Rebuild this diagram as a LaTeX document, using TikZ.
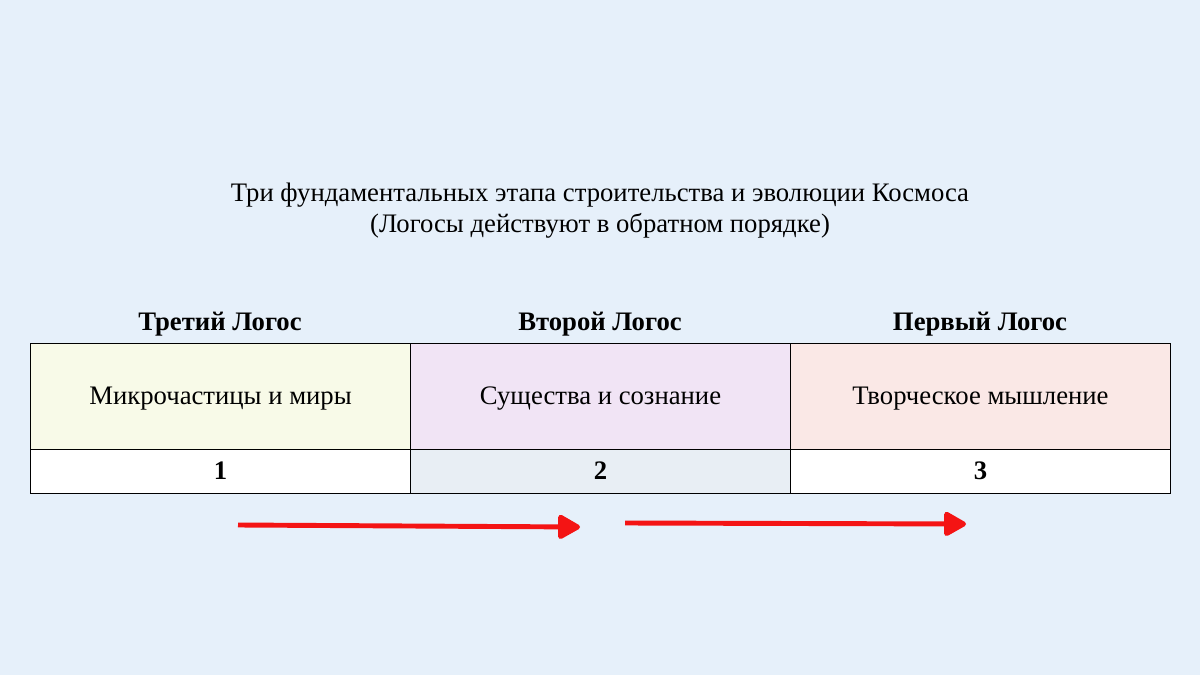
\documentclass[tikz,border=0pt]{standalone}
\usepackage{fontspec}
\setmainfont{Liberation Serif}
\usetikzlibrary{arrows.meta}
\definecolor{bg}{HTML}{E6F0FA}
\definecolor{cA}{HTML}{F8FAE8}
\definecolor{cB}{HTML}{F1E4F5}
\definecolor{cC}{HTML}{FAE8E6}
\definecolor{cM}{HTML}{E8EEF4}
\definecolor{arr}{HTML}{F41414}
\begin{document}
\begin{tikzpicture}[x=0.02cm,y=-0.02cm,
  cell/.style={draw=black,line width=0.6pt,anchor=north west,inner sep=0pt},
  txt/.style={font=\fontsize{15.2pt}{18pt}\selectfont,text height=1.5ex,text depth=0.35ex,inner sep=0pt,yshift=-3.5*0.02cm},
  hdr/.style={font=\fontsize{15.2pt}{18pt}\selectfont\bfseries,text height=1.5ex,text depth=0.35ex,inner sep=0pt,yshift=-3.5*0.02cm},
  red arrow/.style={draw=arr,line width=2.8pt,-{Triangle[length=14pt,width=15pt,round]}}]
\fill[bg] (0,0) rectangle (1200,675);
\useasboundingbox (0,0) rectangle (1200,675);
\node[align=center,font=\fontsize{15.2pt}{18pt}\selectfont] (title) at (600,210.5) {Три фундаментальных этапа строительства и эволюции Космоса\\(Логосы действуют в обратном порядке)};
\node[hdr] (h1) at (220,322) {Третий Логос};
\node[hdr] (h2) at (600,322) {Второй Логос};
\node[hdr] (h3) at (980,322) {Первый Логос};
\node[cell,fill=cA,minimum width=380*0.02cm,minimum height=106*0.02cm] (a) at (30,343) {};
\node[cell,fill=cB,minimum width=380*0.02cm,minimum height=106*0.02cm] (b) at (410,343) {};
\node[cell,fill=cC,minimum width=380*0.02cm,minimum height=106*0.02cm] (c) at (790,343) {};
\node[cell,fill=white,minimum width=380*0.02cm,minimum height=44*0.02cm] (d) at (30,449) {};
\node[cell,fill=cM,minimum width=380*0.02cm,minimum height=44*0.02cm] (e) at (410,449) {};
\node[cell,fill=white,minimum width=380*0.02cm,minimum height=44*0.02cm] (f) at (790,449) {};
\node[txt] (ta) at (a.center) {Микрочастицы и миры};
\node[txt] (tb) at (b.center) {Существа и сознание};
\node[txt] (tc) at (c.center) {Творческое мышление};
\node[hdr] (td) at (d.center) {1};
\node[hdr] (te) at (e.center) {2};
\node[hdr] (tf) at (f.center) {3};
\coordinate (a1s) at (238,525);
\coordinate (a1e) at (580,527);
\coordinate (a2s) at (625,523);
\coordinate (a2e) at (966,524);
\draw[red arrow] (a1s) -- (a1e);
\draw[red arrow] (a2s) -- (a2e);
\end{tikzpicture}
\end{document}
